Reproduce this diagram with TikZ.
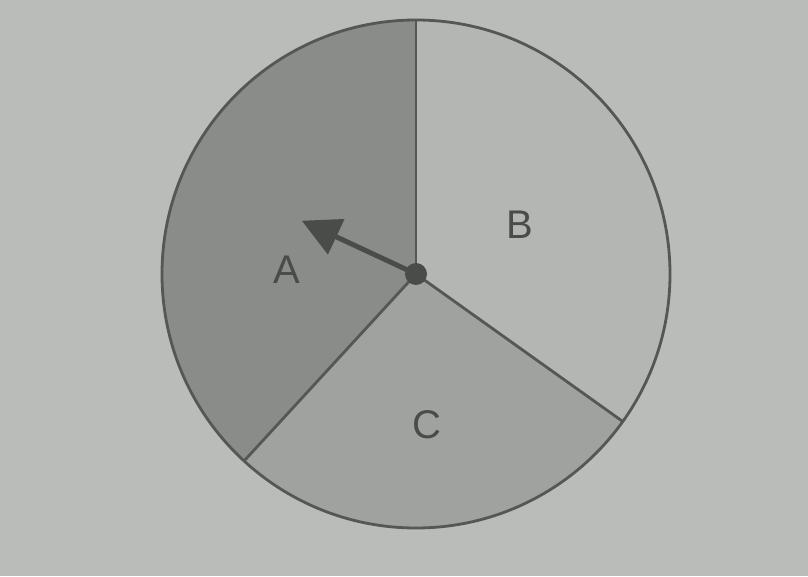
\documentclass[tikz,border=0pt]{standalone}
\usepackage{fontspec}
\setmainfont{Liberation Sans}
\usetikzlibrary{arrows.meta,calc}
\definecolor{bg}{HTML}{B9BCB9}
\definecolor{secA}{HTML}{8A8C8A}
\definecolor{secB}{HTML}{B4B6B4}
\definecolor{secC}{HTML}{A0A2A0}
\definecolor{edge}{HTML}{555755}
\definecolor{ink}{HTML}{4A4C4A}
\begin{document}
\begin{tikzpicture}[x=1pt,y=1pt,
  sector/.style={draw=edge,line width=2.8pt,line join=round},
  lbl/.style={font=\fontsize{40}{40}\selectfont,text=ink,inner sep=0pt}]
\fill[bg] (0,0) rectangle (808,576);
\useasboundingbox (0,0) rectangle (808,576);
\coordinate (O) at (416,302);
\def\R{254}
\fill[secA] (O) -- ++(90:\R) arc[start angle=90,end angle=227.4,radius=\R] -- cycle;
\fill[secC] (O) -- ++(227.4:\R) arc[start angle=227.4,end angle=324.5,radius=\R] -- cycle;
\fill[secB] (O) -- ++(324.5:\R) arc[start angle=324.5,end angle=450,radius=\R] -- cycle;
\draw[sector] (O) circle[radius=\R];
\draw[sector] (O) -- ++(90:\R) coordinate (pT);
\draw[sector] (O) -- ++(227.4:\R) coordinate (pL);
\draw[sector] (O) -- ++(324.5:\R) coordinate (pR);
\coordinate (tip) at ($(O)+(155:126)$);
\draw[draw=ink,line width=5pt,-{Triangle[length=38pt,width=38pt]}] (O) -- (tip);
\fill[ink] (O) circle[radius=11];
\node[lbl] (A) at (287,306) {A};
\node[lbl] (B) at (520,351) {B};
\node[lbl] (C) at (427,151) {C};
\end{tikzpicture}
\end{document}
